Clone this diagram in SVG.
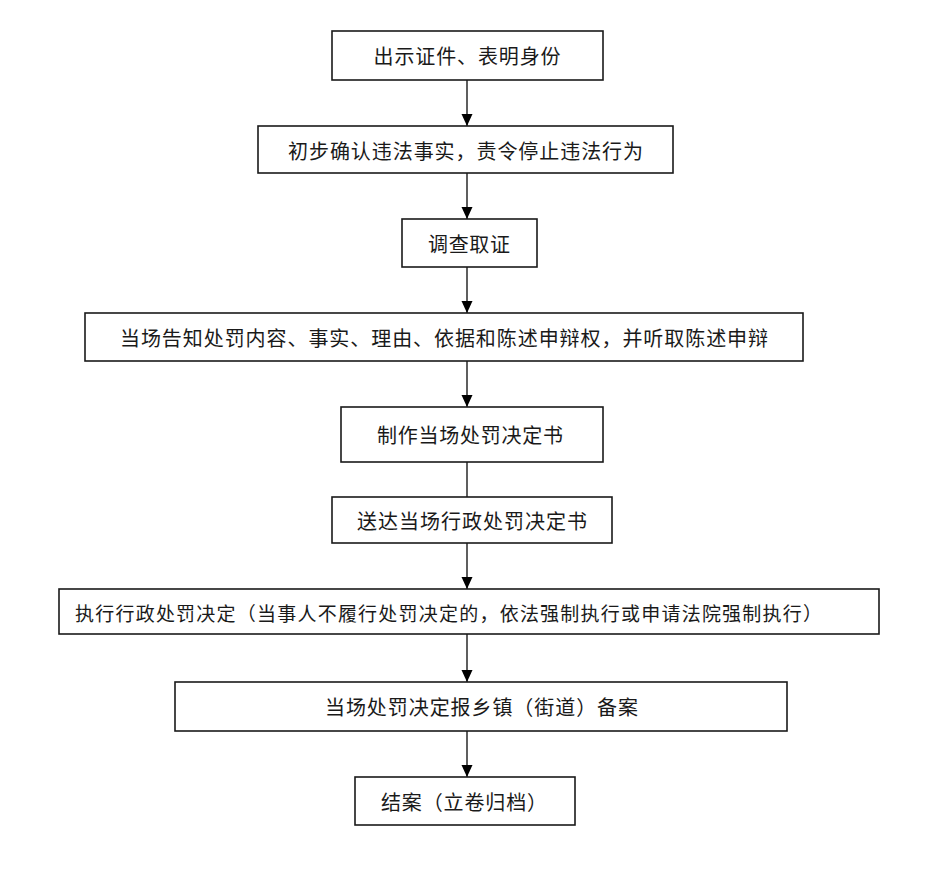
<svg xmlns="http://www.w3.org/2000/svg" width="931" height="879" viewBox="0 0 931 879">
<style>
.box{fill:#fff;stroke:#1a1a1a;stroke-width:1.6}
.lbl{font-family:"Noto Sans CJK SC","Liberation Serif",sans-serif;font-size:20px;fill:#1a1a1a;dominant-baseline:central}
.c{text-anchor:middle}
.con{stroke:#1a1a1a;stroke-width:1.4;fill:none}
</style>
<defs>
<marker id="arr" markerWidth="12" markerHeight="12" viewBox="0 0 12 12" refX="12" refY="6" orient="auto" markerUnits="userSpaceOnUse">
<path d="M0,0.5 L12,6 L0,11.5 Z" fill="#000"/>
</marker>
</defs>
<rect width="931" height="879" fill="#fff"/>
<g id="connectors">
<line class="con" x1="467" y1="80" x2="467" y2="126" marker-end="url(#arr)"/>
<line class="con" x1="467" y1="173" x2="467" y2="219" marker-end="url(#arr)"/>
<line class="con" x1="467" y1="267" x2="467" y2="313" marker-end="url(#arr)"/>
<line class="con" x1="467" y1="361" x2="467" y2="407" marker-end="url(#arr)"/>
<line class="con" x1="467" y1="462" x2="467" y2="497"/>
<line class="con" x1="467" y1="543" x2="467" y2="589" marker-end="url(#arr)"/>
<line class="con" x1="467" y1="634" x2="467" y2="682" marker-end="url(#arr)"/>
<line class="con" x1="467" y1="731" x2="467" y2="777" marker-end="url(#arr)"/>
</g>
<g id="n1"><rect class="box" x="332" y="31" width="271" height="49"/><text class="lbl c" x="467" y="55" textLength="187">出示证件、表明身份</text></g>
<g id="n2"><rect class="box" x="258" y="126" width="415" height="47"/><text class="lbl c" x="465.5" y="150" textLength="355">初步确认违法事实，责令停止违法行为</text></g>
<g id="n3"><rect class="box" x="402" y="219" width="135" height="48"/><text class="lbl c" x="469" y="243" textLength="82">调查取证</text></g>
<g id="n4"><rect class="box" x="85" y="313" width="718" height="48"/><text class="lbl c" x="444" y="337" textLength="648">当场告知处罚内容、事实、理由、依据和陈述申辩权，并听取陈述申辩</text></g>
<g id="n5"><rect class="box" x="341" y="407" width="262" height="55"/><text class="lbl c" x="470" y="434" textLength="186">制作当场处罚决定书</text></g>
<g id="n6"><rect class="box" x="332" y="497" width="280" height="46"/><text class="lbl c" x="472" y="520" textLength="230">送达当场行政处罚决定书</text></g>
<g id="n7"><rect class="box" x="59" y="589" width="820" height="45"/><text class="lbl" x="75" y="612" textLength="747" style="font-size:19px">执行行政处罚决定（当事人不履行处罚决定的，依法强制执行或申请法院强制执行）</text></g>
<g id="n8"><rect class="box" x="175" y="682" width="612" height="49"/><text class="lbl c" x="481.5" y="706" textLength="313">当场处罚决定报乡镇（街道）备案</text></g>
<g id="n9"><rect class="box" x="355" y="777" width="220" height="48"/><text class="lbl" x="381" y="801" textLength="166">结案（立卷归档）</text></g>
</svg>
